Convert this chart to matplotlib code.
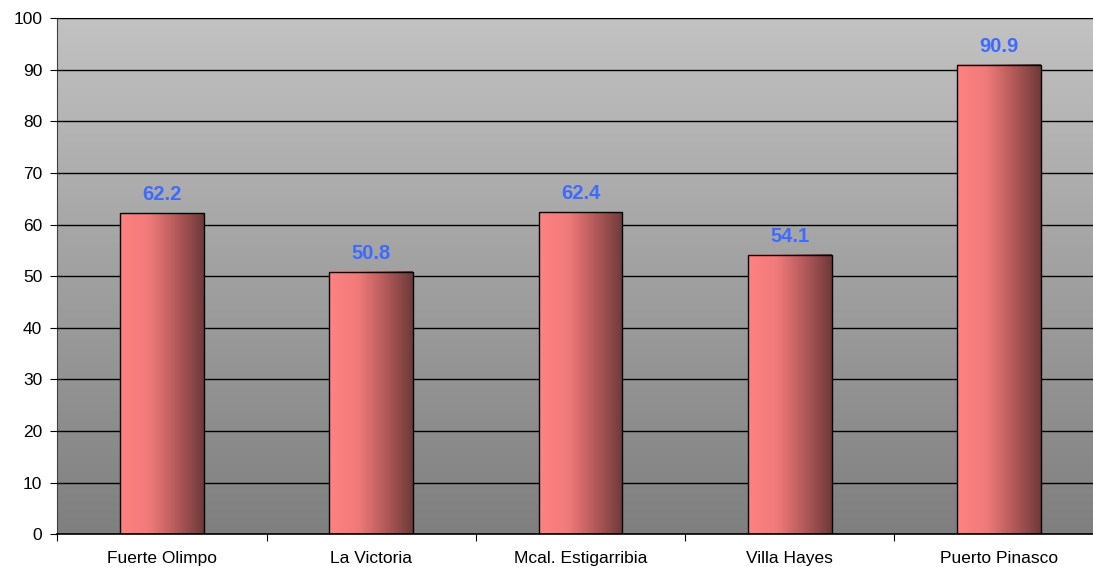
import numpy as np
import matplotlib
matplotlib.use("Agg")
import matplotlib.pyplot as plt
from matplotlib.colors import LinearSegmentedColormap

# data
places = ["Fuerte Olimpo", "La Victoria", "Mcal. Estigarribia", "Villa Hayes", "Puerto Pinasco"]
values = [62.2, 50.8, 62.4, 54.1, 90.9]

plt.rcParams['font.family'] = ['Liberation Sans', 'DejaVu Sans']

fig = plt.figure(figsize=(10.93, 5.67), dpi=100)
ax = fig.add_axes([0.0526, 0.058, 0.957, 0.910])

x = np.arange(len(places))
ax.set_xlim(-0.5, len(places) - 0.5)
ax.set_ylim(0, 100)

# gray background gradient, light on top
bg = LinearSegmentedColormap.from_list("bg", ["#7f7f7f", "#c2c2c2"])
ax.imshow(np.linspace(0, 1, 256).reshape(-1, 1), cmap=bg, aspect="auto",
          extent=(-0.5, len(places) - 0.5, 0, 100), origin="lower", zorder=0)

ax.set_yticks(np.arange(0, 101, 10))
ax.yaxis.grid(True, color="black", linewidth=1.0, zorder=1)
ax.set_axisbelow(False)

# bars with horizontal gradient
barcm = LinearSegmentedColormap.from_list(
    "bar", [(0, "#ff8282"), (0.35, "#f07a7a"), (0.65, "#b85c5c"), (1, "#6e3a3a")])
grad = np.linspace(0, 1, 256).reshape(1, -1)
w = 0.40
bars = ax.bar(x, values, width=w, facecolor="none", edgecolor="black",
              linewidth=1.0, zorder=4)
for b in bars:
    x0, y0 = b.get_x(), b.get_y()
    ax.imshow(grad, cmap=barcm, aspect="auto",
              extent=(x0, x0 + b.get_width(), y0, y0 + b.get_height()),
              zorder=3)
for xi, v in zip(x, values):
    ax.annotate(f"{v:.1f}", (xi, v), xytext=(0, 6.5), textcoords="offset points",
                ha="center", va="bottom", color="#3d6bff", fontsize=14.5,
                fontweight="bold", zorder=5)

ax.set_xticks(np.arange(-0.5, len(places), 1.0))
ax.set_xticklabels([])
ax.set_xticks(x, minor=True)
ax.set_xticklabels(places, minor=True, fontsize=12.5)
ax.tick_params(axis="x", which="minor", length=0, pad=12)
ax.tick_params(axis="x", which="major", length=5, direction="out", color="black")
ax.tick_params(axis="y", length=5, direction="out", labelsize=12.5, pad=6)

ax.spines["top"].set_color("#808080")
ax.spines["right"].set_visible(False)
ax.spines["left"].set_color("#404040")
ax.spines["bottom"].set_color("black")
ax.spines["bottom"].set_linewidth(1.2)
ax.spines["bottom"].set_zorder(6)

fig.savefig("out.png", dpi=100)
